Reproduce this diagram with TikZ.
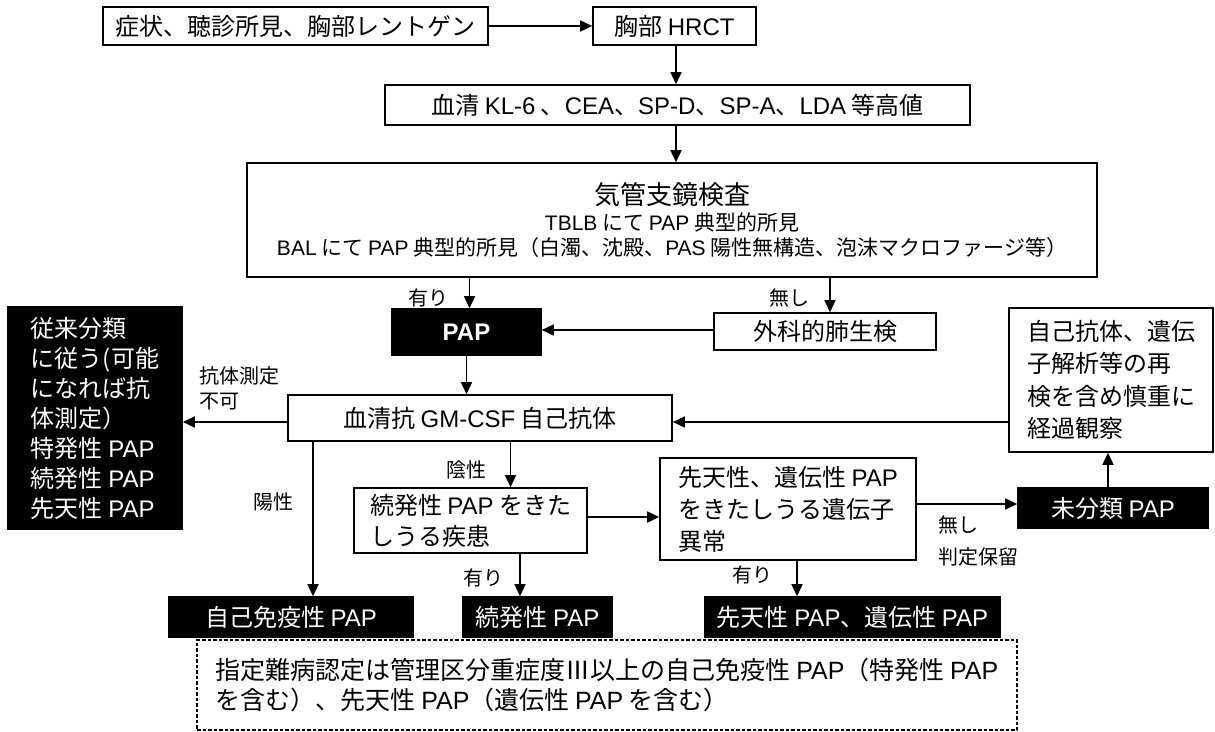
\documentclass[tikz,border=0pt]{standalone}
\usepackage{fontspec}
\setmainfont{Noto Sans CJK JP}
\newfontfamily\latfont{Liberation Sans}
\newcommand{\lat}[1]{{\latfont #1}}
\usetikzlibrary{arrows.meta}
\begin{document}
\begin{tikzpicture}[x=1pt,y=-1pt,
  box/.style={draw, line width=1.6pt, inner sep=0pt, font=\fontsize{24}{30}\selectfont, align=center},
  bbox/.style={box, fill=black, text=white},
  lbl/.style={font=\fontsize{20}{25}\selectfont, inner sep=0pt, align=left},
  arr/.style={line width=1.6pt, -{Triangle[length=12pt,width=11pt]}},
  note/.style={draw, line width=1.1pt, dash pattern=on 3.5pt off 2pt, inner sep=0pt, font=\fontsize{25}{30}\selectfont, align=left}]
\useasboundingbox (0,0) rectangle (1215,731);

% top chain
\node[box, minimum width=385pt, minimum height=38pt] (n1) at (295.5,26) {症状、聴診所見、胸部レントゲン};
\node[box, minimum width=163pt, minimum height=38pt] (n2) at (674.5,26) {胸部 \lat{HRCT}};
\node[box, minimum width=585pt, minimum height=40pt] (n3) at (677.5,105) {血清 \lat{KL-6} 、\lat{CEA}、\lat{SP-D}、\lat{SP-A}、\lat{LDA} 等高値};
\node[box, minimum width=850pt, minimum height=114pt, font=\fontsize{21}{25}\selectfont] (n4) at (672,220)
  {{\fontsize{26}{25}\selectfont 気管支鏡検査}\\[1pt]
   \lat{TBLB} にて \lat{PAP} 典型的所見\\
   \lat{BAL} にて \lat{PAP} 典型的所見（白濁、沈殿、\lat{PAS} 陽性無構造、泡沫マクロファージ等）};

\draw[arr] (n1) -- (n2);
\draw[arr] ([xshift=1.5pt]n2.south) -- ([xshift=1.5pt]n2.south |- n3.north);
\draw[arr] ([xshift=1.5pt]n2.south |- n3.south) -- ([xshift=1.5pt]n2.south |- n4.north);

% PAP row
\node[bbox, minimum width=149pt, minimum height=46pt, font=\fontsize{24}{30}\selectfont\bfseries] (pap) at (466.5,332) {\lat{PAP}};
\node[box, minimum width=222pt, minimum height=37pt] (geka) at (825,331.5) {外科的肺生検};
\draw[arr] ([xshift=3pt]pap.north |- n4.south) -- ([xshift=3pt]pap.north);
\draw[arr] ([xshift=5pt]geka.north |- n4.south) -- ([xshift=5pt]geka.north);
\node[lbl] (l1) at (428,298) {有り};
\node[lbl] (l2) at (789,298) {無し};
\draw[arr] ([yshift=1.5pt]geka.west) -- ([yshift=1.5pt]geka.west -| pap.east);

% left black box, GM-CSF row, right box
\node[bbox, minimum width=174pt, minimum height=222pt, align=left] (jurai) at (95,418)
  {従来分類\\に従う(可能\\になれば抗\\体測定）\\特発性 \lat{PAP}\\続発性 \lat{PAP}\\先天性 \lat{PAP}};
\node[box, minimum width=384pt, minimum height=46pt] (gm) at (480,418) {血清抗 \lat{GM-CSF} 自己抗体};
\node[box, minimum width=204pt, minimum height=144pt, align=left, font=\fontsize{24}{32.3}\selectfont] (jiko) at (1111,380)
  {自己抗体、遺伝\\子解析等の再\\検を含め慎重に\\経過観察};
\node[lbl, anchor=west] (l3) at (199,388) {抗体測定\\不可};
\draw[arr] (pap) -- (pap |- gm.north);
\draw[arr] ([yshift=-4pt]gm.west) -- ([yshift=-4pt]gm.west -| jurai.east);
\draw[arr] ([yshift=-4pt]jiko.west |- gm.east) -- ([yshift=-4pt]gm.east);

% lower middle
\node[box, minimum width=233pt, minimum height=65pt, align=left, font=\fontsize{24}{31}\selectfont] (zoku) at (470.5,520.5)
  {続発性 \lat{PAP} をきた\\しうる疾患};
\node[box, minimum width=256pt, minimum height=102pt, align=left, font=\fontsize{24}{32}\selectfont] (sen) at (788,509)
  {先天性、遺伝性 \lat{PAP}\\をきたしうる遺伝子\\異常};
\node[bbox, minimum width=190pt, minimum height=40pt] (mibun) at (1113,508) {未分類 \lat{PAP}};

% bottom results
\node[bbox, minimum width=244pt, minimum height=40pt] (ai) at (291,617) {自己免疫性 \lat{PAP}};
\node[bbox, minimum width=149pt, minimum height=40pt] (zb) at (537.5,617) {続発性 \lat{PAP}};
\node[bbox, minimum width=295pt, minimum height=40pt] (sb) at (852.5,617) {先天性 \lat{PAP}、遺伝性 \lat{PAP}};

\draw[arr] ([xshift=22pt]ai.north |- gm.south) -- ([xshift=22pt]ai.north);
\node[lbl] (l4) at (273,502) {陽性};
\draw[arr] ([xshift=40pt]zoku.north |- gm.south) -- ([xshift=40pt]zoku.north);
\node[lbl] (l5) at (466,470) {陰性};
\draw[arr] ([yshift=3.5pt]zoku.east) -- ([yshift=3.5pt]zoku.east -| sen.west);
\draw[arr] ([yshift=4pt]mibun.west -| sen.east) -- ([yshift=4pt]mibun.west);
\node[lbl, anchor=west] (l6) at (938,525) {無し};
\node[lbl, anchor=west] (l7) at (938,557) {判定保留};
\draw[arr] ([xshift=-5pt]mibun.north) -- ([xshift=-5pt]mibun.north |- jiko.south);
\draw[arr] ([xshift=-17.5pt]zb.north |- zoku.south) -- ([xshift=-17.5pt]zb.north);
\node[lbl] (l8) at (483,578) {有り};
\draw[arr] ([xshift=-55.5pt]sb.north |- sen.south) -- ([xshift=-55.5pt]sb.north);
\node[lbl] (l9) at (752,575) {有り};

% note
\node[note, minimum width=820pt, minimum height=90pt] (nt) at (607,685)
  {指定難病認定は管理区分重症度Ⅲ以上の自己免疫性 \lat{PAP}（特発性 \lat{PAP}\\を含む）、先天性 \lat{PAP}（遺伝性 \lat{PAP} を含む）};
\end{tikzpicture}
\end{document}
